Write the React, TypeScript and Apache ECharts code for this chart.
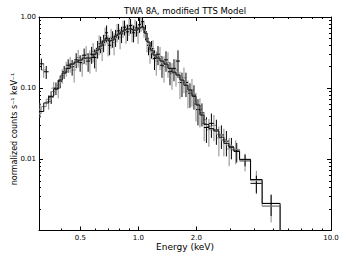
import React, { useEffect, useRef } from "react";
import * as echarts from "echarts";

// ---------- data (energies in keV, counts in normalized counts s^-1 keV^-1) ----------
const blackEdges = [0.305, 0.3228, 0.3425, 0.3636, 0.3836, 0.4024, 0.422, 0.4426, 0.4643, 0.4871, 0.5109, 0.5358, 0.562, 0.5826, 0.6037, 0.6257, 0.6485, 0.6722, 0.6966, 0.722, 0.7484, 0.7756, 0.8039, 0.8329, 0.8635, 0.895, 0.9277, 0.9614, 0.9964, 1.033, 1.07, 1.109, 1.15, 1.192, 1.235, 1.295, 1.359, 1.425, 1.495, 1.568, 1.645, 1.725, 1.809, 1.898, 1.991, 2.088, 2.19, 2.324, 2.467, 2.619, 2.78, 2.951, 3.132, 3.353, 3.823, 4.391, 5.442];
const blackModel = [0.047, 0.062, 0.077, 0.097, 0.13, 0.163, 0.19, 0.218, 0.233, 0.248, 0.265, 0.265, 0.27, 0.3, 0.343, 0.39, 0.46, 0.506, 0.46, 0.474, 0.54, 0.576, 0.615, 0.656, 0.68, 0.68, 0.656, 0.656, 0.7, 0.723, 0.595, 0.445, 0.343, 0.292, 0.265, 0.24, 0.218, 0.19, 0.168, 0.153, 0.13, 0.11, 0.094, 0.077, 0.058, 0.042, 0.031, 0.027, 0.025, 0.0205, 0.0168, 0.0148, 0.013, 0.01, 0.0052, 0.0024];
const blackData = [0.22, 0.17, 0.075, 0.1, 0.125, 0.17, 0.21, 0.2, 0.25, 0.23, 0.29, 0.24, 0.3, 0.27, 0.36, 0.42, 0.44, 0.6, 0.4, 0.5, 0.52, 0.64, 0.58, 0.72, 0.62, 0.76, 0.6, 0.7, 0.78, 0.86, 0.62, 0.4, 0.36, 0.26, 0.3, 0.21, 0.25, 0.17, 0.19, 0.24, 0.12, 0.12, 0.085, 0.08, 0.05, 0.045, 0.028, 0.032, 0.026, 0.022, 0.018, 0.015, 0.013, 0.0098, 0.0046, 0.0024];
const blackErr = [0.04, 0.035, 0.015, 0.02, 0.025, 0.035, 0.045, 0.05, 0.06, 0.06, 0.07, 0.07, 0.08, 0.08, 0.1, 0.11, 0.12, 0.16, 0.11, 0.13, 0.14, 0.16, 0.15, 0.17, 0.16, 0.18, 0.16, 0.17, 0.18, 0.16, 0.15, 0.11, 0.1, 0.08, 0.09, 0.07, 0.08, 0.06, 0.065, 0.1, 0.045, 0.045, 0.032, 0.03, 0.02, 0.016, 0.011, 0.012, 0.01, 0.008, 0.007, 0.005, 0.004, 0.0018, 0.0013, 0.0008];

const grayEdges = [0.305, 0.3132, 0.3324, 0.3529, 0.3747, 0.3929, 0.4121, 0.4323, 0.4533, 0.4756, 0.4988, 0.5233, 0.5487, 0.5722, 0.593, 0.6145, 0.6369, 0.6602, 0.6842, 0.709, 0.735, 0.7619, 0.7896, 0.8184, 0.8481, 0.879, 0.9112, 0.9443, 0.9788, 1.0144, 1.0514, 1.0897, 1.1293, 1.1706, 1.2131, 1.265, 1.327, 1.392, 1.459, 1.531, 1.606, 1.684, 1.767, 1.853, 1.944, 2.039, 2.138, 2.256, 2.395, 2.542, 2.698, 2.864, 3.059, 3.353, 3.823, 4.391, 5.442];
const grayModel = [0.044, 0.055, 0.07, 0.09, 0.11, 0.14, 0.17, 0.2, 0.22, 0.235, 0.25, 0.26, 0.265, 0.285, 0.32, 0.36, 0.42, 0.48, 0.47, 0.46, 0.5, 0.55, 0.59, 0.63, 0.66, 0.67, 0.66, 0.65, 0.68, 0.72, 0.66, 0.5, 0.38, 0.31, 0.275, 0.25, 0.225, 0.2, 0.178, 0.16, 0.14, 0.12, 0.1, 0.085, 0.066, 0.048, 0.036, 0.029, 0.026, 0.0225, 0.0185, 0.0158, 0.0138, 0.0097, 0.005, 0.0022];
const grayData = [0.05, 0.18, 0.065, 0.1, 0.1, 0.15, 0.19, 0.22, 0.18, 0.27, 0.22, 0.3, 0.25, 0.33, 0.27, 0.42, 0.36, 0.55, 0.42, 0.52, 0.44, 0.62, 0.52, 0.7, 0.6, 0.74, 0.62, 0.72, 0.6, 0.82, 0.7, 0.46, 0.33, 0.36, 0.24, 0.28, 0.2, 0.23, 0.16, 0.18, 0.12, 0.14, 0.09, 0.095, 0.06, 0.05, 0.032, 0.026, 0.03, 0.02, 0.019, 0.014, 0.0135, 0.0094, 0.0052, 0.0022];
const grayErr = [0.012, 0.04, 0.015, 0.022, 0.028, 0.035, 0.045, 0.055, 0.06, 0.075, 0.075, 0.09, 0.09, 0.1, 0.1, 0.13, 0.12, 0.16, 0.14, 0.16, 0.15, 0.18, 0.17, 0.19, 0.18, 0.2, 0.18, 0.2, 0.18, 0.2, 0.19, 0.14, 0.11, 0.11, 0.09, 0.1, 0.08, 0.09, 0.065, 0.075, 0.05, 0.055, 0.038, 0.04, 0.026, 0.022, 0.014, 0.011, 0.012, 0.009, 0.008, 0.006, 0.005, 0.0026, 0.0017, 0.0009];

const xRange = [0.305, 10];
const yRange = [0.001, 1];
const xMajorTicks = [0.5, 1, 2, 10];
const xMinorTicks = [0.4, 0.6, 0.7, 0.8, 0.9, 3, 4, 5, 6, 7, 8, 9];
const xTickLabels = [0.5, 1, 2, 10];
const yMajorTicks = [0.001, 0.01, 0.1, 1];
const yMinorTicks = [0.002, 0.003, 0.004, 0.005, 0.006, 0.007, 0.008, 0.009, 0.02, 0.03, 0.04, 0.05, 0.06, 0.07, 0.08, 0.09, 0.2, 0.3, 0.4, 0.5, 0.6, 0.7, 0.8, 0.9];
const yTickLabels = [0.01, 0.1, 1];

const titleText = "TWA 8A, modified TTS Model";
const xLabelText = "Energy (keV)";
const yLabelText = "normalized counts s\u207B\u00B9 keV\u207B\u00B9";

const BLACK = "#000000";
const GRAY = "#8a8a8a";
const FONT = "DejaVu Sans";

const L = (v: number) => Math.log10(v);

function crossRows(edges: number[], vals: number[], errs: number[]) {
  return vals.map((v, i) => [L(edges[i]), L(edges[i + 1]), L(v), L(v - errs[i]), L(v + errs[i])]);
}
function stepRows(edges: number[], vals: number[]) {
  const pts: number[][] = [];
  vals.forEach((v, i) => {
    pts.push([L(edges[i]), L(v)]);
    pts.push([L(edges[i + 1]), L(v)]);
  });
  pts.push([L(edges[edges.length - 1]), L(yRange[0])]);
  return pts;
}

function crossSeries(rows: number[][], color: string) {
  return {
    type: "custom",
    xAxisIndex: 0,
    yAxisIndex: 0,
    clip: true,
    silent: true,
    encode: { x: [0, 1], y: [2, 3, 4] },
    data: rows,
    renderItem: (params: any, api: any) => {
      const xl = api.value(0), xh = api.value(1), y = api.value(2), yl = api.value(3), yh = api.value(4);
      const a = api.coord([xl, y]);
      const b = api.coord([xh, y]);
      const xm = (xl + xh) / 2;
      const c = api.coord([xm, yl]);
      const d = api.coord([xm, yh]);
      const style = { stroke: color, lineWidth: 1, fill: null };
      return {
        type: "group",
        children: [
          { type: "line", shape: { x1: a[0], y1: a[1], x2: b[0], y2: b[1] }, style },
          { type: "line", shape: { x1: c[0], y1: c[1], x2: d[0], y2: d[1] }, style },
        ],
      };
    },
  };
}

function stepSeries(rows: number[][], color: string) {
  return {
    type: "line",
    xAxisIndex: 0,
    yAxisIndex: 0,
    data: rows,
    showSymbol: false,
    symbol: "none",
    silent: true,
    clip: true,
    lineStyle: { color, width: 1 },
  };
}

function xAxisDef(position: string, ticks: number[], len: number, labels: number[] | null, line: boolean) {
  return {
    type: "value",
    position,
    min: L(xRange[0]),
    max: L(xRange[1]),
    axisLine: { show: line, onZero: false, lineStyle: { color: BLACK, width: 1 } },
    axisTick: { show: true, inside: true, length: len, customValues: ticks.map(L), lineStyle: { color: BLACK, width: 1 } },
    axisLabel: labels
      ? { show: true, customValues: labels.map(L), formatter: (v: number) => Math.pow(10, v).toFixed(1), margin: 4, fontSize: 7, color: BLACK, fontFamily: FONT }
      : { show: false },
    splitLine: { show: false },
  };
}
function yAxisDef(position: string, ticks: number[], len: number, labels: number[] | null, line: boolean) {
  return {
    type: "value",
    position,
    min: L(yRange[0]),
    max: L(yRange[1]),
    axisLine: { show: line, onZero: false, lineStyle: { color: BLACK, width: 1 } },
    axisTick: { show: true, inside: true, length: len, customValues: ticks.map(L), lineStyle: { color: BLACK, width: 1 } },
    axisLabel: labels
      ? { show: true, customValues: labels.map(L), formatter: (v: number) => Math.pow(10, v).toFixed(2), margin: 3, fontSize: 7, color: BLACK, fontFamily: FONT }
      : { show: false },
    splitLine: { show: false },
  };
}

export default function App() {
  const ref = useRef<HTMLDivElement>(null);
  useEffect(() => {
    if (!ref.current) return;
    const chart = echarts.init(ref.current, undefined, { renderer: "svg" });
    chart.setOption({
      animation: false,
      backgroundColor: "#ffffff",
      grid: { left: 39, top: 17, width: 292, height: 213.5 },
      xAxis: [
        xAxisDef("bottom", xMajorTicks, 4, xTickLabels, true),
        xAxisDef("bottom", xMinorTicks, 2, null, false),
        xAxisDef("top", xMajorTicks, 4, null, true),
        xAxisDef("top", xMinorTicks, 2, null, false),
      ],
      yAxis: [
        yAxisDef("left", yMajorTicks, 4, yTickLabels, true),
        yAxisDef("left", yMinorTicks, 2, null, false),
        yAxisDef("right", yMajorTicks, 4, null, true),
        yAxisDef("right", yMinorTicks, 2, null, false),
      ],
      series: [
        crossSeries(crossRows(grayEdges, grayData, grayErr), GRAY),
        stepSeries(stepRows(grayEdges, grayModel), GRAY),
        crossSeries(crossRows(blackEdges, blackData, blackErr), BLACK),
        stepSeries(stepRows(blackEdges, blackModel), BLACK),
      ],
      graphic: [
        { type: "text", x: 185, y: 11, style: { text: titleText, fontSize: 8.5, fontFamily: FONT, fill: BLACK, align: "center", verticalAlign: "middle" } },
        { type: "text", x: 185, y: 247, style: { text: xLabelText, fontSize: 9, fontFamily: FONT, fill: BLACK, align: "center", verticalAlign: "middle" } },
        { type: "text", x: 14, y: 129, rotation: Math.PI / 2, style: { text: yLabelText, fontSize: 8, fontFamily: FONT, fill: BLACK, align: "center", verticalAlign: "middle" } },
      ],
    });
    return () => chart.dispose();
  }, []);
  return <div ref={ref} style={{ position: "absolute", left: 0, top: 0, width: 346, height: 260, background: "#fff" }} />;
}
